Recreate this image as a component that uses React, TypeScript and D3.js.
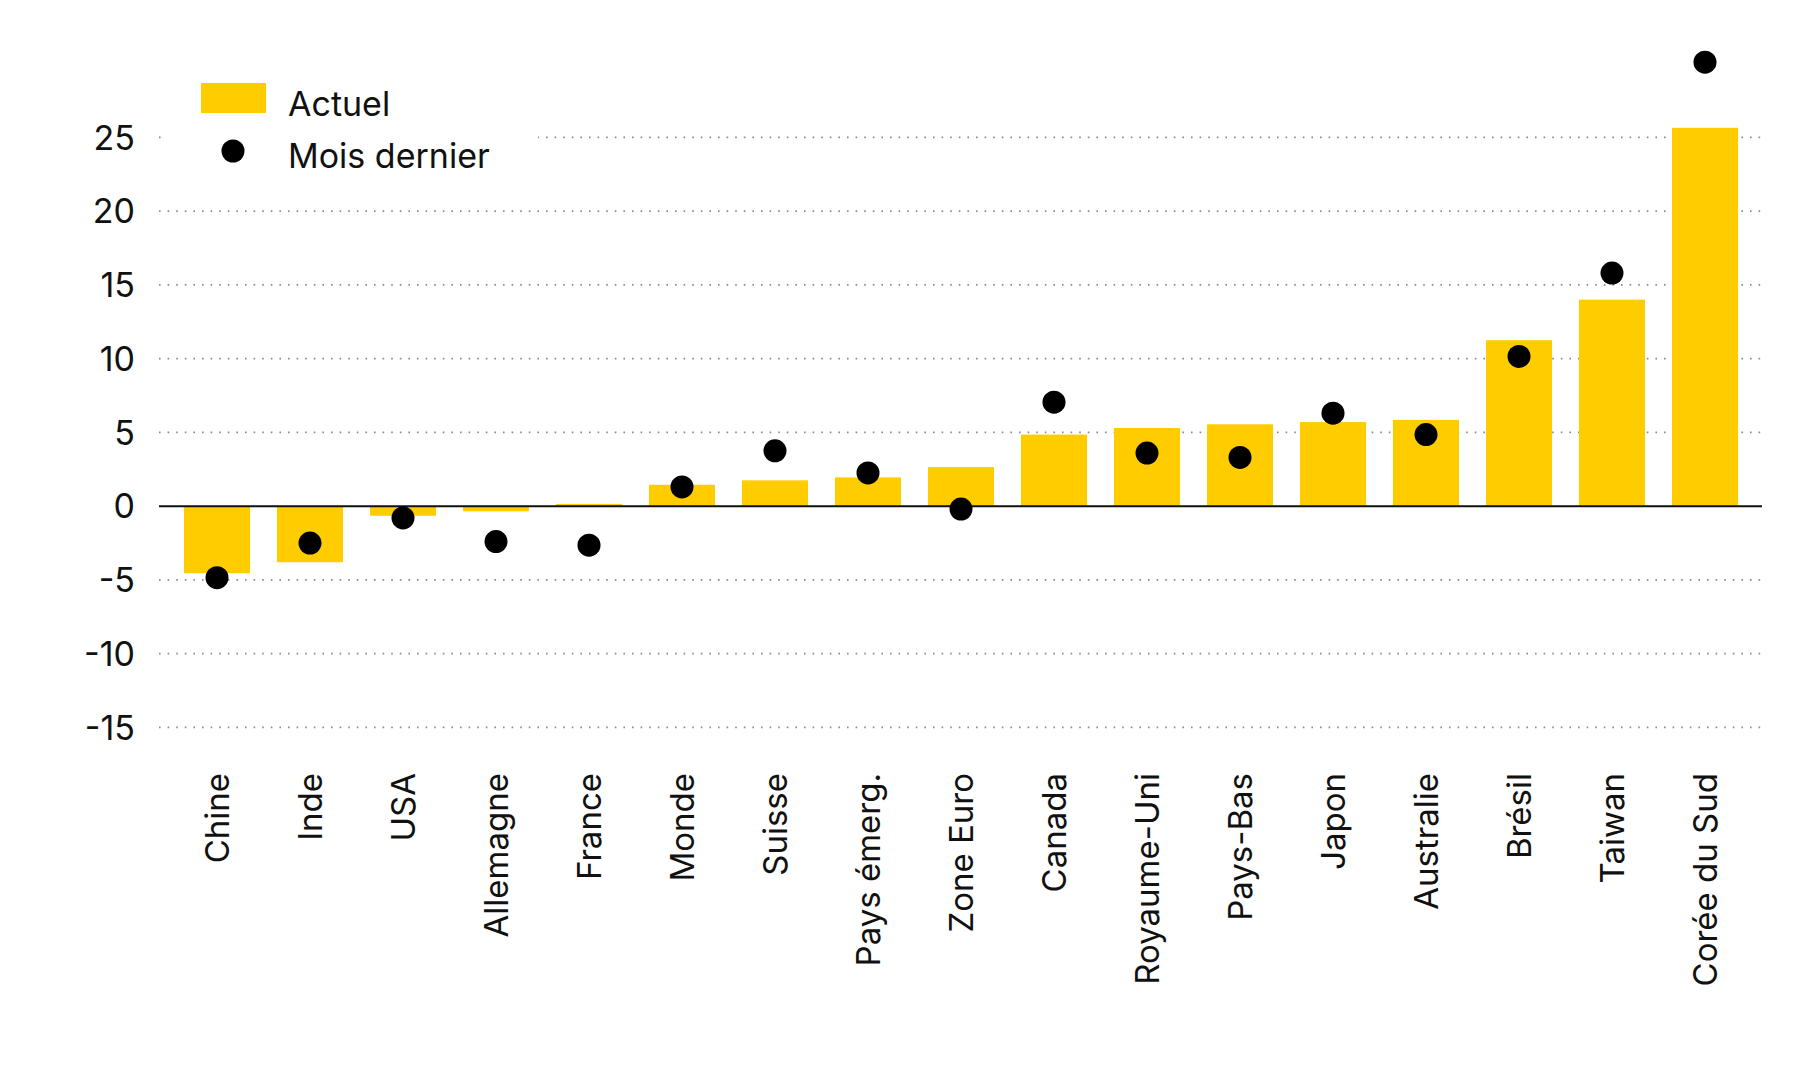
import React, { useEffect, useRef } from 'react';
import * as d3 from 'd3';

const categories = [
  'Chine', 'Inde', 'USA', 'Allemagne', 'France', 'Monde', 'Suisse', 'Pays émerg.',
  'Zone Euro', 'Canada', 'Royaume-Uni', 'Pays-Bas', 'Japon', 'Australie', 'Brésil',
  'Taiwan', 'Corée du Sud',
];
const actuel = [-4.55, -3.8, -0.65, -0.35, 0.15, 1.45, 1.75, 1.95, 2.65, 4.85, 5.3, 5.55, 5.7, 5.85, 11.25, 14.0, 25.65];
const moisDernier = [-4.85, -2.5, -0.8, -2.4, -2.65, 1.3, 3.75, 2.25, -0.2, 7.05, 3.6, 3.3, 6.3, 4.85, 10.15, 15.8, 30.1];
const yTicks = [-15, -10, -5, 0, 5, 10, 15, 20, 25];
const legendLabels = ['Actuel', 'Mois dernier'];

const WIDTH = 1800;
const HEIGHT = 1080;
const YELLOW = '#ffcc00';
const FONT = 'Inter, "Liberation Sans", sans-serif';

const App: React.FC = () => {
  const svgRef = useRef<SVGSVGElement>(null);

  useEffect(() => {
    document.body.style.margin = '0';
    if (!svgRef.current) return;
    const svg = d3.select(svgRef.current);
    svg.selectAll('*').remove();

    const x = d3.scaleBand<string>()
      .domain(categories)
      .range([170.5, 1751.5])
      .paddingInner(0.29)
      .paddingOuter(0.145);

    const y = d3.scaleLinear().domain([-15, 25]).range([727.4, 137.4]);

    const gridX0 = 159;
    const gridX1 = 1762;

    // dotted gridlines
    svg.append('g')
      .selectAll('line')
      .data(yTicks.filter(t => t !== 0))
      .join('line')
      .attr('x1', gridX0)
      .attr('x2', gridX1)
      .attr('y1', d => y(d))
      .attr('y2', d => y(d))
      .attr('stroke', '#8a8a8a')
      .attr('stroke-width', 1.6)
      .attr('stroke-dasharray', '1.6 7');

    // y tick labels
    svg.append('g')
      .selectAll('text')
      .data(yTicks)
      .join('text')
      .attr('x', 135)
      .attr('y', d => y(d))
      .attr('dy', '0.36em')
      .attr('text-anchor', 'end')
      .attr('font-family', FONT)
      .attr('font-size', 34)
      .attr('fill', '#111')
      .text(d => String(d));

    // bars
    svg.append('g')
      .selectAll('rect')
      .data(actuel)
      .join('rect')
      .attr('x', (_, i) => x(categories[i])!)
      .attr('width', x.bandwidth())
      .attr('y', d => y(Math.max(0, d)))
      .attr('height', d => Math.abs(y(d) - y(0)))
      .attr('fill', YELLOW);

    // zero line
    svg.append('line')
      .attr('x1', gridX0)
      .attr('x2', gridX1)
      .attr('y1', y(0))
      .attr('y2', y(0))
      .attr('stroke', '#111')
      .attr('stroke-width', 2);

    // last month dots
    svg.append('g')
      .selectAll('circle')
      .data(moisDernier)
      .join('circle')
      .attr('cx', (_, i) => x(categories[i])! + x.bandwidth() / 2)
      .attr('cy', d => y(d))
      .attr('r', 11.5)
      .attr('fill', '#000');

    // category labels
    svg.append('g')
      .selectAll('text')
      .data(categories)
      .join('text')
      .attr('transform', d => `translate(${x(d)! + x.bandwidth() / 2},773) rotate(-90)`)
      .attr('dy', '0.36em')
      .attr('text-anchor', 'end')
      .attr('font-family', FONT)
      .attr('font-size', 33)
      .attr('fill', '#111')
      .text(d => d);

    // legend
    const legend = svg.append('g');
    legend.append('rect')
      .attr('x', 163).attr('y', 62).attr('width', 375).attr('height', 125)
      .attr('fill', '#fff');
    legend.append('rect')
      .attr('x', 201).attr('y', 83).attr('width', 65).attr('height', 30)
      .attr('fill', YELLOW);
    legend.append('circle')
      .attr('cx', 233).attr('cy', 151).attr('r', 11.5)
      .attr('fill', '#000');
    legend.selectAll('text.lg')
      .data(legendLabels)
      .join('text')
      .attr('class', 'lg')
      .attr('x', 288)
      .attr('y', (_, i) => 116 + i * 52)
      .attr('font-family', FONT)
      .attr('font-size', 34)
      .attr('fill', '#111')
      .text(d => d);
  }, []);

  return (
    <svg ref={svgRef} width={WIDTH} height={HEIGHT} style={{ display: 'block', background: '#fff' }} />
  );
};

export default App;
